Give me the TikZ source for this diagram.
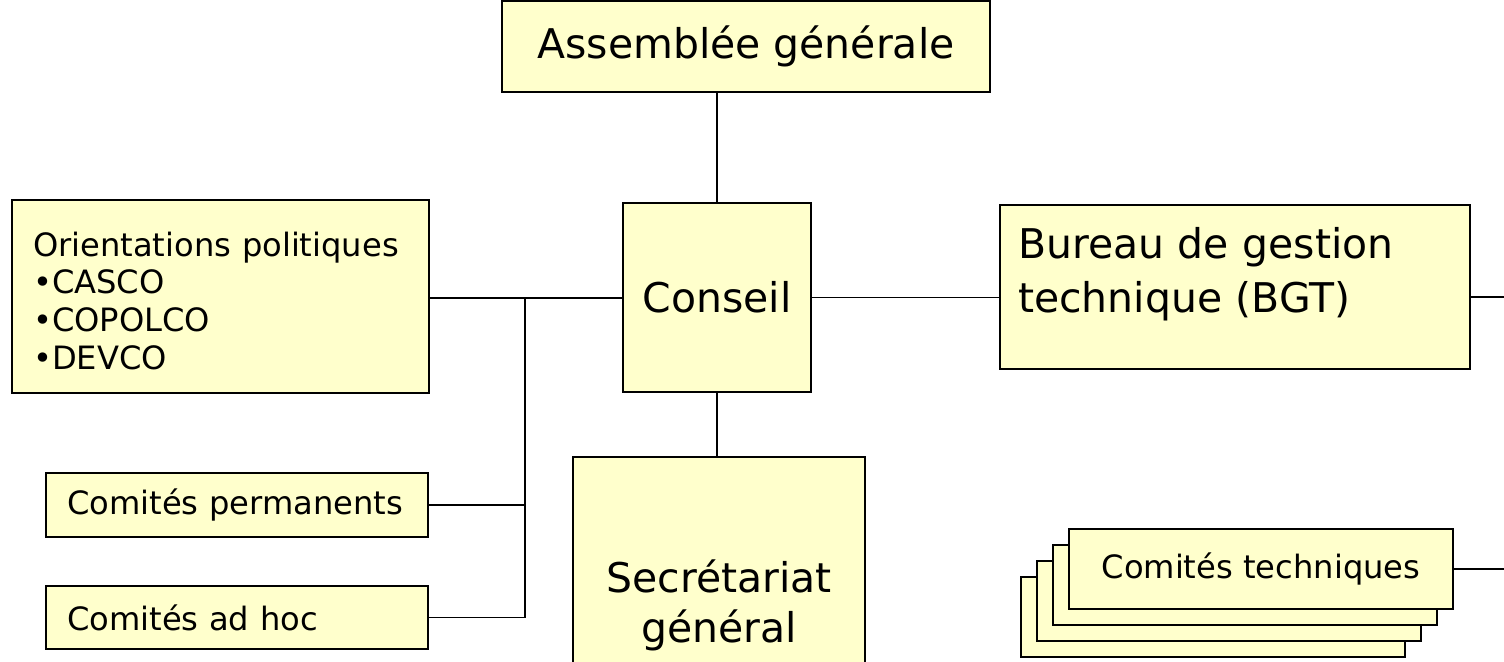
\documentclass[tikz,border=0pt]{standalone}
\usepackage{fontspec}
\setmainfont{DejaVu Sans}

\definecolor{boxfill}{HTML}{FFFFCC}
\tikzset{
  orgbox/.style={draw=black, fill=boxfill, line width=1.1pt, inner sep=0pt, align=center},
  bigtext/.style={font=\fontsize{23.3}{28.5}\selectfont},
  smalltext/.style={font=\fontsize{18.3}{21.5}\selectfont},
  link/.style={line width=1.1pt}
}

\begin{document}
\begin{tikzpicture}[x=0.02cm, y=-0.02cm]
  \useasboundingbox (0,0) rectangle (1504,662);

  % centre column
  \node[orgbox, bigtext, minimum width=9.76cm, minimum height=1.82cm] (ag) at (746,46.5) {Assemblée générale};
  \node[orgbox, bigtext, minimum width=3.76cm, minimum height=3.78cm] (conseil) at (717,297.5) {Conseil};
  \node[orgbox, bigtext, minimum width=5.84cm, minimum height=5.92cm] (sg) at (719,605) {Secrétariat\\général};

  % left side
  \node[orgbox, smalltext, text width=7.5cm, inner xsep=0.42cm, minimum height=3.86cm, align=left, text depth=2.1cm] (orient) at (220.5,296.5)
    {Orientations politiques\\•CASCO\\•COPOLCO\\•DEVCO};
  \node[orgbox, smalltext, text width=6.8cm, inner xsep=0.42cm, minimum height=1.28cm, align=left] (perm) at (237,505) {Comités permanents};
  \node[orgbox, smalltext, text width=6.8cm, inner xsep=0.42cm, minimum height=1.26cm, align=left] (adhoc) at (237,617.5) {Comités ad hoc};

  % right side
  \node[orgbox, font=\fontsize{23.3}{30.7}\selectfont, text width=8.68cm, inner xsep=0.36cm, minimum height=3.28cm, align=left, text depth=1.75cm] (bgt) at (1235,287)
    {Bureau de gestion\\technique (BGT)};
  \foreach \i in {3,2,1}
    \node[orgbox, minimum width=7.68cm, minimum height=1.6cm] (ct\i) at ({1261-16*\i},{569+16*\i}) {};
  \node[orgbox, smalltext, minimum width=7.68cm, minimum height=1.6cm] (ct) at (1261,569) {Comités techniques};

  \coordinate (jct) at (525,298);
  \coordinate (bgtout) at (1504,297);
  \coordinate (ctout) at (1504,569);

  % connectors
  \draw[link] (conseil.north) -- (conseil.north |- ag.south);
  \draw[link] (conseil.south) -- (conseil.south |- sg.north);
  \draw[link] (orient.east |- jct) -- (conseil.west |- jct);
  \draw[link] (jct) |- (perm.east);
  \draw[link] (jct) |- (adhoc.east);
  \draw[link] (conseil.east) -- (conseil.east -| bgt.west);
  \draw[link] (bgtout -| bgt.east) -- (bgtout);
  \draw[link] (ct.east) -- (ctout);
\end{tikzpicture}
\end{document}
